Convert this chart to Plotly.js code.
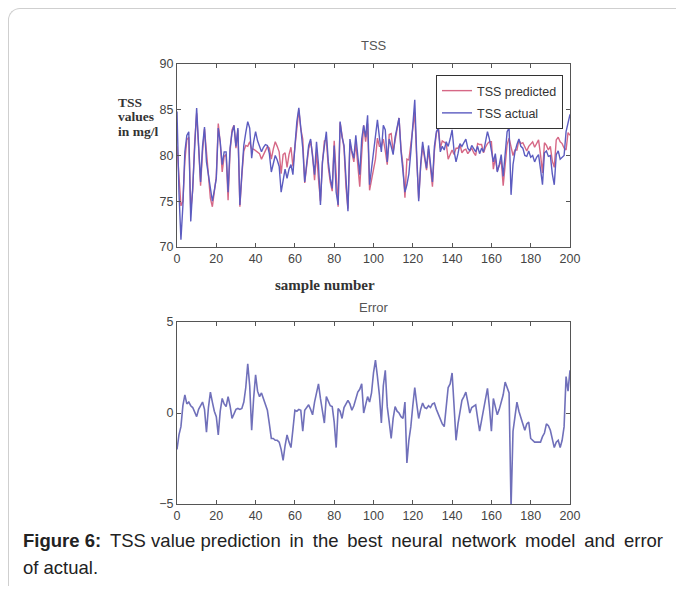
<!DOCTYPE html>
<html>
<head>
<meta charset="utf-8">
<script src="https://cdn.plot.ly/plotly-3.0.1.min.js"></script>
<style>
html,body{margin:0;padding:0;background:#fff;}
#wrap{position:relative;width:676px;height:596px;overflow:hidden;}
#plot{position:absolute;left:0;top:0;width:676px;height:596px;}
#card{position:absolute;left:8px;top:8px;width:700px;height:577px;border-left:1px solid #cfcfcf;border-top:1px solid #cfcfcf;border-top-left-radius:12px;pointer-events:none;}
</style>
</head>
<body>
<div id="wrap"><div id="plot"></div><div id="card"></div></div>
<script>
// sample numbers 0..200
const sampleNumber = Array.from({length: 201}, (_, i) => i);

const tssActual = [
84.8,76.0,70.8,74.5,80.4,82.2,82.6,72.8,76.5,81.5,
85.2,81.1,77.1,81.0,83.1,79.3,78.0,76.4,75.0,76.2,
77.5,83.0,81.5,79.0,80.4,80.4,76.0,80.8,82.5,83.3,
81.0,83.0,74.6,78.0,81.1,82.5,83.7,83.0,79.7,81.5,
82.6,81.6,81.1,80.4,80.9,81.2,81.1,80.2,78.2,79.3,
80.0,79.5,78.8,76.0,77.5,78.5,77.5,78.5,79.0,77.9,
81.0,83.7,85.2,83.0,80.8,77.1,79.5,81.1,81.8,80.0,
77.9,81.5,79.0,74.6,79.3,81.0,82.6,79.3,77.5,76.4,
81.1,76.0,74.6,83.7,82.0,81.1,77.0,73.9,81.8,80.5,
79.7,82.2,80.0,77.9,81.8,83.3,82.0,84.4,76.8,78.5,
80.8,82.5,83.9,82.0,80.4,83.3,82.8,79.3,81.8,81.0,
80.1,82.0,83.0,84.1,80.5,78.6,76.0,76.8,78.0,80.4,
83.0,86.1,80.0,75.0,79.0,81.5,80.0,78.6,81.1,79.0,
77.1,81.0,82.6,83.0,80.4,81.0,80.6,81.5,81.0,81.8,
82.8,80.5,79.3,80.2,81.3,81.0,81.5,81.8,80.8,80.5,
81.1,80.7,80.4,81.0,80.2,80.8,80.4,81.5,82.6,81.8,
80.5,79.3,80.2,78.2,79.0,80.1,77.7,80.5,82.6,83.0,
75.7,79.0,80.4,81.2,81.8,81.0,80.8,80.0,79.9,80.5,
79.8,80.0,79.3,79.8,80.1,78.5,76.8,80.3,80.5,79.9,
80.0,78.0,76.8,80.1,80.5,79.6,79.8,80.0,82.6,83.7,
84.5
];

const tssPredicted = [
81.0,77.2,74.5,75.0,79.4,81.7,82.0,74.0,76.2,81.5,
84.6,80.9,76.7,80.4,82.9,80.4,77.7,75.3,74.4,76.1,
77.7,83.5,81.4,78.2,79.9,80.1,75.1,80.4,82.8,83.3,
80.8,82.8,74.4,77.8,80.5,81.1,81.0,81.5,80.7,80.7,
80.5,80.4,80.2,79.6,80.1,80.7,81.0,80.8,79.6,80.7,
81.5,81.0,80.4,78.0,80.1,80.3,78.7,80.1,80.9,78.8,
80.9,83.6,85.0,82.9,81.8,77.0,79.2,80.7,81.6,80.1,
77.3,80.4,77.4,75.0,79.1,81.6,81.7,78.7,77.1,76.1,
81.6,77.9,74.4,83.6,82.3,80.8,76.5,74.2,81.3,80.4,
79.3,81.4,78.9,76.6,80.2,83.3,81.5,83.5,76.2,77.4,
78.6,79.6,81.9,81.0,81.0,81.8,80.5,79.0,82.3,82.4,
80.4,81.7,82.9,84.1,80.7,78.9,75.4,79.6,79.5,81.2,
82.6,84.7,79.5,75.3,78.8,81.0,79.7,78.4,80.7,78.7,
76.6,80.5,82.4,83.1,80.8,81.6,81.4,81.3,79.6,80.2,
80.6,80.1,80.8,80.8,81.2,80.3,80.6,80.7,80.2,80.5,
80.8,80.3,80.0,81.3,81.2,81.2,80.3,80.9,81.3,81.5,
81.5,78.5,79.8,78.3,78.8,79.5,76.7,78.8,81.2,81.9,
80.9,80.0,80.6,80.6,81.7,81.3,81.4,81.0,80.5,81.0,
81.2,81.5,80.9,81.4,81.7,80.1,78.1,81.4,81.1,80.6,
81.0,79.4,78.7,81.7,82.0,81.5,81.3,80.8,80.6,82.5,
82.2
];

const predictionError = [
-2.0,-1.2,-0.75,0.4,1.0,0.5,0.6,0.4,0.3,0.0,
-0.2,0.2,0.4,0.6,0.2,-1.05,0.3,1.15,0.6,0.1,
-0.2,-1.2,0.1,0.8,0.5,0.35,0.9,0.4,-0.3,0.0,
0.2,0.25,0.2,0.25,0.6,1.4,2.7,1.5,-0.95,0.8,
2.1,1.2,0.9,1.1,0.8,0.5,0.15,-0.6,-1.4,-1.4,
-1.5,-1.5,-1.6,-2.0,-2.6,-1.8,-1.2,-1.6,-1.9,-0.9,
0.15,0.1,0.2,0.15,-1.0,0.15,0.3,0.45,0.2,-0.1,
0.6,1.1,1.6,0.8,0.2,-0.55,0.9,0.6,0.4,0.35,
-0.5,-1.9,0.25,0.1,-0.3,0.3,0.5,0.7,0.5,0.15,
0.4,0.8,1.15,1.3,1.6,0.0,0.5,0.9,0.6,1.1,
2.2,2.9,2.0,1.0,-0.55,1.5,2.35,0.35,-0.5,-1.4,
-0.3,0.35,0.1,0.0,-0.2,-0.3,0.6,-2.75,-1.5,-0.75,
0.4,1.4,0.5,-0.3,0.2,0.55,0.3,0.25,0.4,0.3,
0.5,0.55,0.2,-0.1,-0.4,-0.6,-0.75,0.2,1.4,1.6,
2.2,0.4,-1.5,-0.6,0.1,0.7,0.9,1.15,0.6,0.0,
0.3,0.4,0.45,-0.3,-1.0,-0.4,0.15,0.6,1.35,0.3,
-1.0,0.8,0.4,-0.1,0.2,0.6,1.0,1.7,1.4,1.1,
-5.2,-1.0,-0.2,0.6,0.1,-0.3,-0.6,-0.95,-0.6,-0.5,
-1.4,-1.5,-1.6,-1.6,-1.6,-1.6,-1.3,-1.1,-0.6,-0.7,
-0.95,-1.4,-1.9,-1.6,-1.5,-1.9,-1.5,-0.75,2.0,1.2,
2.35
];

const topTicks = [70, 75, 80, 85, 90];
const bottomTicks = [-5, 0, 5];
const xTicks = [0, 20, 40, 60, 80, 100, 120, 140, 160, 180, 200];
const captionBold = 'Figure 6:';
const captionLine1 = 'TSS value prediction in the best neural network model and error';
const captionLine2 = 'of actual.';

const W = 676, H = 596;
const px = v => v / W;
const py = v => 1 - v / H;
const narrow = '"Liberation Sans Narrow", "Arial Narrow", "Liberation Sans", Arial, sans-serif';
const serif = '"Liberation Serif", "DejaVu Serif", serif';
const sans = '"Liberation Sans", Arial, sans-serif';

const axisCommon = {
  showline: true, mirror: 'ticks', linecolor: '#555', linewidth: 1,
  ticks: 'inside', ticklen: 4, tickcolor: '#555', showgrid: false, zeroline: false,
  tickfont: {family: narrow, size: 12.5, color: '#444'}, fixedrange: true
};

const traces = [
  {x: sampleNumber, y: tssPredicted, type: 'scatter', mode: 'lines', name: 'TSS predicted',
   legendgroup: 'p', line: {color: 'rgb(214,104,134)', width: 1.4}, xaxis: 'x', yaxis: 'y'},
  {x: sampleNumber, y: tssActual, type: 'scatter', mode: 'lines', name: 'TSS actual',
   legendgroup: 'a', line: {color: 'rgb(92,92,192)', width: 1.4}, xaxis: 'x', yaxis: 'y'},
  {x: sampleNumber, y: predictionError, type: 'scatter', mode: 'lines', name: 'Error',
   showlegend: false, line: {color: 'rgb(112,112,186)', width: 1.6}, xaxis: 'x2', yaxis: 'y2'}
];

// justify caption line by widening most word gaps (space + thin space)
const words = captionLine1.split(' ');
const justified = words.map((w, i) => (i === 0 ? '' : (i <= 2 ? ' ' : ' &#8201;')) + w).join('');

const ann = (text, x, y, font, extra) => Object.assign({text, x: px(x), y: py(y),
  xref: 'paper', yref: 'paper', showarrow: false, xanchor: 'center', yanchor: 'middle', font}, extra || {});

const layout = {
  width: W, height: H,
  margin: {l: 0, r: 0, t: 0, b: 0},
  paper_bgcolor: '#fff', plot_bgcolor: '#fff',
  showlegend: true,
  legend: {x: px(436), y: py(75), xanchor: 'left', yanchor: 'top', tracegroupgap: 3,
    bgcolor: '#fff', bordercolor: '#333', borderwidth: 1,
    font: {family: narrow, size: 12.5, color: '#333'}},
  xaxis: Object.assign({}, axisCommon, {domain: [px(177), px(570)], range: [0, 200],
    tickvals: xTicks, anchor: 'y'}),
  yaxis: Object.assign({}, axisCommon, {domain: [py(247), py(64)], range: [70, 90],
    tickvals: topTicks, anchor: 'x'}),
  xaxis2: Object.assign({}, axisCommon, {domain: [px(177), px(570)], range: [0, 200],
    tickvals: xTicks, anchor: 'y2'}),
  yaxis2: Object.assign({}, axisCommon, {domain: [py(504), py(322)], range: [-5, 5],
    tickvals: bottomTicks, anchor: 'x2'}),
  annotations: [
    ann('TSS', 374, 45, {family: narrow, size: 13, color: '#555'}),
    ann('Error', 374, 307, {family: narrow, size: 13, color: '#555'}),
    ann('<b>TSS</b>', 116, 103, {family: serif, size: 13.5, color: '#333'}, {xanchor: 'left'}),
    ann('<b>values</b>', 116, 117, {family: serif, size: 13.5, color: '#333'}, {xanchor: 'left'}),
    ann('<b>in mg/l</b>', 116, 131, {family: serif, size: 13.5, color: '#333'}, {xanchor: 'left'}),
    ann('<b>sample number</b>', 325, 285, {family: serif, size: 15, color: '#333'}),
    ann('<b>' + captionBold + '</b> &#8201;' + justified, 21, 540, {family: sans, size: 18.5, color: '#222'}, {xanchor: 'left'}),
    ann(captionLine2, 21, 567, {family: sans, size: 18.5, color: '#222'}, {xanchor: 'left'})
  ]
};

Plotly.newPlot('plot', traces, layout, {displayModeBar: false, staticPlot: true});
</script>
</body>
</html>
